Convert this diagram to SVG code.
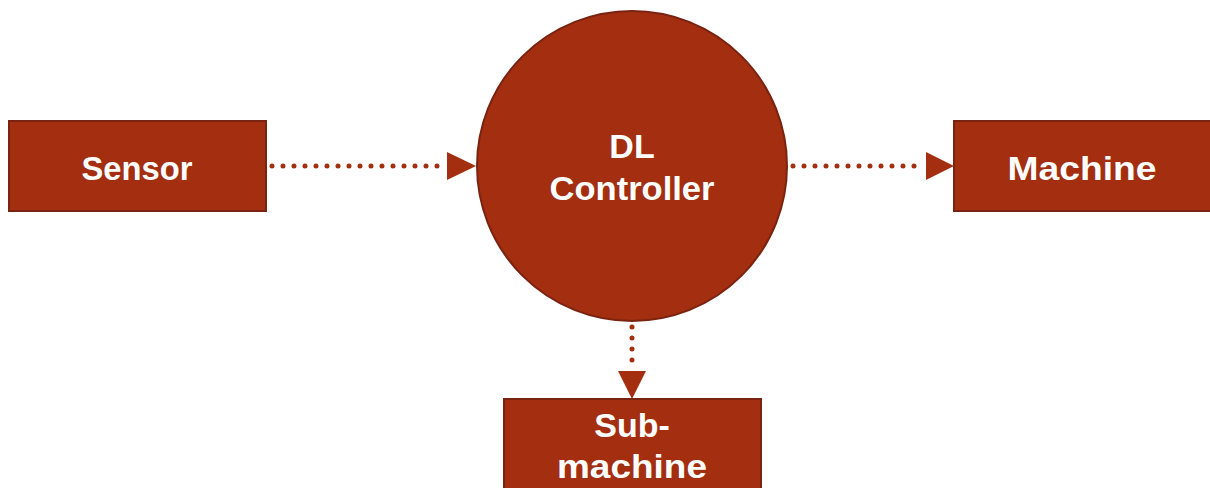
<svg xmlns="http://www.w3.org/2000/svg" width="1210" height="488" viewBox="0 0 1210 488">
<style>
.box{fill:#A32E10;stroke:#7A2310;stroke-width:2}
.lbl{fill:#ffffff;font-family:"Liberation Sans",Arial,sans-serif;font-weight:bold;font-size:34px;text-anchor:middle}
.dot{fill:none;stroke:#A32E10;stroke-width:5;stroke-linecap:round;stroke-dasharray:0 11}
.head{fill:#A32E10}
</style>
<rect width="1210" height="488" fill="#ffffff"/>
<g id="connectors">
<line class="dot" x1="272" y1="166" x2="446" y2="166"/>
<polygon class="head" points="447,152 476,166 447,180"/>
<line class="dot" x1="793" y1="166" x2="924" y2="166"/>
<polygon class="head" points="926,152 954,166 926,180"/>
<line class="dot" x1="632" y1="327" x2="632" y2="368"/>
<polygon class="head" points="618,371 646,371 632,399"/>
</g>
<g id="sensor">
<rect class="box" x="9" y="121" width="257" height="90"/>
<text class="lbl" x="137" y="180" textLength="111" lengthAdjust="spacingAndGlyphs">Sensor</text>
</g>
<g id="controller">
<circle class="box" cx="632" cy="166" r="155"/>
<text class="lbl" x="632" y="158">DL</text>
<text class="lbl" x="632" y="200" textLength="165" lengthAdjust="spacingAndGlyphs">Controller</text>
</g>
<g id="machine">
<rect class="box" x="954" y="121" width="260" height="90"/>
<text class="lbl" x="1082" y="180" textLength="149" lengthAdjust="spacingAndGlyphs">Machine</text>
</g>
<g id="submachine">
<rect class="box" x="504" y="399" width="257" height="95"/>
<text class="lbl" x="632" y="437">Sub-</text>
<text class="lbl" x="632" y="478" textLength="150" lengthAdjust="spacingAndGlyphs">machine</text>
</g>
</svg>
